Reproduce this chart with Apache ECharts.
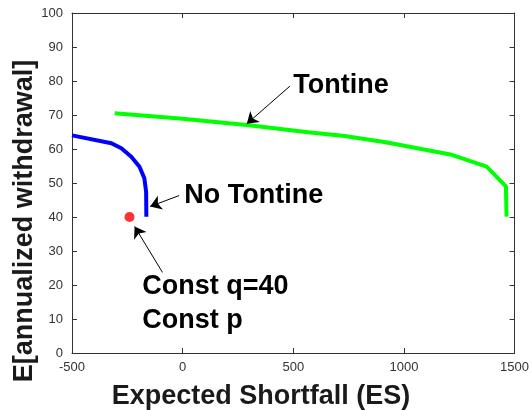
<!DOCTYPE html>
<html>
<head>
<meta charset="utf-8">
<script src="https://cdn.jsdelivr.net/npm/echarts@6/dist/echarts.min.js"></script>
<style>html,body{margin:0;padding:0;background:#fff}#c{width:532px;height:410px}</style>
</head>
<body>
<div id="c"></div>
<script>
// Data
const noTontineES = [-500, -322, -277, -232, -195, -173, -165, -164];
const noTontineEW = [64.0, 61.7, 60.2, 57.7, 54.8, 51.4, 47.4, 40.1];
const tontineES = [-307, 0, 300, 567, 732, 918, 1210, 1374, 1461, 1464];
const tontineEW = [70.5, 68.9, 67.0, 64.9, 63.8, 62.0, 58.4, 54.8, 49.0, 40.1];
const constES = [-240];
const constEW = [40];
const xTicks = { min: -500, max: 1500, interval: 500 };
const yTicks = { min: 0, max: 100, interval: 10 };
// Annotations: text, text anchor, arrow tail, arrow tip (data coords)
const annotTexts = ['Tontine', 'No Tontine', 'Const q=40', 'Const p'];
const annotAnchors = [[500, 78.8], [7, 46.2], [-183, 19.6], [-183, 9.4]];
const arrowTails = [[485, 78.5], [-16, 46.3], [-91, 23.7]];
const arrowTips = [[290, 67.4], [-147, 43.1], [-217, 37.2]];

const zip = (a, b) => a.map((v, i) => [v, b[i]]);
const axisCol = '#333';
const FONT = '"Liberation Sans", Arial, Helvetica, sans-serif';

const chart = echarts.init(document.getElementById('c'));
const commonX = {
  type: 'value', min: xTicks.min, max: xTicks.max, interval: xTicks.interval,
  axisLine: { show: true, onZero: false, lineStyle: { color: axisCol, width: 1 } },
  axisTick: { show: true, inside: true, length: 5, lineStyle: { color: axisCol } },
  splitLine: { show: false }
};
const commonY = {
  type: 'value', min: yTicks.min, max: yTicks.max, interval: yTicks.interval,
  axisLine: { show: true, onZero: false, lineStyle: { color: axisCol, width: 1 } },
  axisTick: { show: true, inside: true, length: 5, lineStyle: { color: axisCol } },
  splitLine: { show: false }
};
chart.setOption({
  animation: false,
  backgroundColor: '#fff',
  grid: { left: 72, right: 14, top: 13, bottom: 57, containLabel: false },
  xAxis: [
    Object.assign({}, commonX, { position: 'bottom',
      axisLabel: { show: true, color: '#333', fontSize: 13, fontFamily: FONT, margin: 8,
        formatter: v => String(v) } }),
    Object.assign({}, commonX, { position: 'top', axisLabel: { show: false } })
  ],
  yAxis: [
    Object.assign({}, commonY, { position: 'left',
      axisLabel: { show: true, color: '#333', fontSize: 13, fontFamily: FONT, margin: 9,
        formatter: v => String(v) } }),
    Object.assign({}, commonY, { position: 'right', axisLabel: { show: false } })
  ],
  graphic: [
    { type: 'text', x: 261, y: 397, style: {
        text: 'Expected Shortfall (ES)', x: 0, y: 0, align: 'center', verticalAlign: 'middle',
        font: 'bold 27px ' + FONT, fill: '#1a1a1a' } },
    { type: 'text', x: 25, y: 221, rotation: Math.PI / 2, style: {
        text: 'E[annualized withdrawal]', x: 0, y: 0, align: 'center', verticalAlign: 'middle',
        font: 'bold 27px ' + FONT, fill: '#1a1a1a' } }
  ],
  series: [
    { type: 'line', name: 'No Tontine', data: zip(noTontineES, noTontineEW), showSymbol: false,
      lineStyle: { color: '#0000ff', width: 4 }, itemStyle: { color: '#0000ff' }, z: 3 },
    { type: 'line', name: 'Tontine', data: zip(tontineES, tontineEW), showSymbol: false,
      lineStyle: { color: '#00ff00', width: 4 }, itemStyle: { color: '#00ff00' }, z: 3 },
    { type: 'scatter', name: 'Const', data: zip(constES, constEW), symbol: 'circle', symbolSize: 10,
      itemStyle: { color: '#ff0000' }, z: 4 },
    { type: 'line', name: 'annot', data: [], silent: true, z: 5,
      markLine: {
        silent: true, symbol: ['none', 'arrow'], symbolSize: 11, animation: false,
        lineStyle: { color: '#000', width: 1, type: 'solid' },
        itemStyle: { color: '#000' },
        label: { show: false },
        emphasis: { disabled: true },
        data: arrowTails.map((t, i) => [{ coord: t }, { coord: arrowTips[i] }])
      },
      markPoint: {
        silent: true, symbol: 'circle', symbolSize: 0, animation: false,
        label: { show: true, position: 'right', distance: 0, color: '#000',
          fontSize: 27, fontWeight: 'bold', fontFamily: FONT,
          formatter: p => p.name, align: 'left', verticalAlign: 'middle' },
        data: annotTexts.map((t, i) => ({ name: t, coord: annotAnchors[i] }))
      }
    }
  ]
});
</script>
</body>
</html>
